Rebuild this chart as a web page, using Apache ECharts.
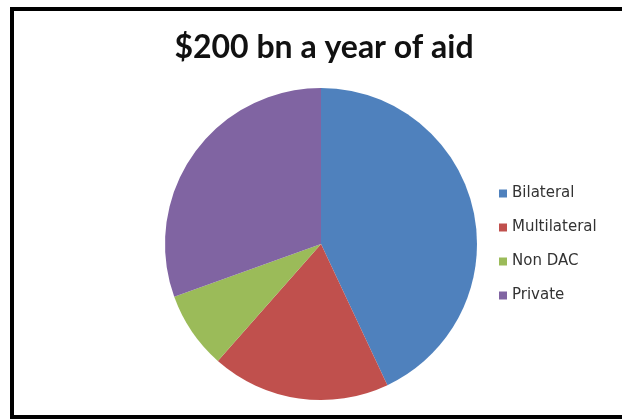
<!DOCTYPE html>
<html>
<head>
<meta charset="utf-8">
<script src="https://cdn.jsdelivr.net/npm/echarts@6/dist/echarts.min.js"></script>
<style>
html,body{margin:0;padding:0;background:#fff;}
#chart{width:622px;height:419px;}
</style>
</head>
<body>
<div id="chart"></div>
<script>
var categories = ["Bilateral", "Multilateral", "Non DAC", "Private"];
var values = [86, 37, 16, 61];
var colors = ["#4F81BD", "#C0504D", "#9BBB59", "#8064A2"];
var titleText = "$200 bn a year of aid";

var chart = echarts.init(document.getElementById('chart'), null, {renderer: 'canvas'});
chart.setOption({
  backgroundColor: '#ffffff',
  animation: false,
  title: {
    text: titleText,
    left: 319,
    textAlign: 'center',
    top: 27,
    textStyle: {fontFamily: 'Lato', fontWeight: 'bold', fontSize: 32, color: '#111'}
  },
  legend: {
    orient: 'vertical',
    left: 494,
    top: 180,
    icon: 'rect',
    itemWidth: 8,
    itemHeight: 8,
    itemGap: 17,
    data: categories,
    textStyle: {fontFamily: 'DejaVu Sans', fontSize: 15, color: '#333', lineHeight: 17}
  },
  graphic: [{
    type: 'rect',
    shape: {x: 12, y: 9, width: 640, height: 408},
    style: {fill: 'none', stroke: '#000', lineWidth: 4},
    silent: true
  }],
  series: [{
    type: 'pie',
    center: [321, 244],
    radius: 156,
    startAngle: 90,
    clockwise: true,
    label: {show: false},
    labelLine: {show: false},
    itemStyle: {borderWidth: 0},
    data: categories.map(function (c, i) {
      return {name: c, value: values[i], itemStyle: {color: colors[i]}};
    })
  }]
});
</script>
</body>
</html>
